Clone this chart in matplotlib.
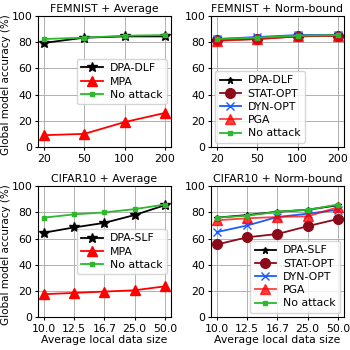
import matplotlib
matplotlib.use("Agg")
import matplotlib.pyplot as plt

femnist_sizes = ["20", "50", "100", "200"]
cifar_sizes = ["10.0", "12.5", "16.7", "25.0", "50.0"]

# FEMNIST + Average
fa_dpa = [79.5, 83.5, 84.5, 84.5]
fa_mpa = [9.0, 10.0, 19.0, 26.0]
fa_none = [82.5, 83.5, 85.0, 85.5]

# FEMNIST + Norm-bound
fn_dpa = [82.0, 83.5, 85.0, 85.5]
fn_stat = [81.5, 82.5, 84.5, 85.0]
fn_dyn = [82.5, 84.0, 85.5, 85.5]
fn_pga = [81.0, 82.5, 84.5, 85.0]
fn_none = [82.5, 83.5, 85.0, 85.5]

# CIFAR10 + Average
ca_dpa = [64.5, 68.5, 72.0, 78.0, 85.5]
ca_mpa = [17.5, 18.5, 19.5, 20.5, 23.5]
ca_none = [76.0, 78.5, 80.0, 82.5, 86.0]

# CIFAR10 + Norm-bound
cn_dpa = [76.0, 78.0, 80.5, 82.0, 85.5]
cn_stat = [55.5, 61.0, 63.5, 69.5, 75.0]
cn_dyn = [65.0, 70.0, 76.5, 79.0, 82.0]
cn_pga = [74.0, 75.5, 76.5, 77.0, 84.0]
cn_none = [76.0, 77.5, 80.5, 82.0, 86.0]

green = "#2db82d"
blue = "#1a5cff"
maroon = "#8b0a1a"

plt.rcParams["font.size"] = 7.8
plt.rcParams["axes.linewidth"] = 0.8
plt.rcParams["xtick.major.width"] = 0.8
plt.rcParams["ytick.major.width"] = 0.8
plt.rcParams["xtick.major.size"] = 2.5
plt.rcParams["ytick.major.size"] = 2.5
plt.rcParams["xtick.major.pad"] = 2.5
plt.rcParams["ytick.major.pad"] = 1.5

fig, axes = plt.subplots(2, 2, figsize=(3.5, 3.5), dpi=100)

leg_kw = dict(fontsize=7.8, handlelength=2, borderpad=0.4, labelspacing=0.3,
              handletextpad=0.6, borderaxespad=0.4)


def style(ax, labels, title):
    ax.set_title(title, fontsize=7.8, pad=3)
    ax.set_xticks(list(range(len(labels))))
    ax.set_xticklabels(labels)
    ax.set_ylim(0, 100)
    ax.set_yticks([0, 20, 40, 60, 80, 100])
    ax.grid(True, color="#b0b0b0", linewidth=0.7)
    ax.set_axisbelow(True)


def average_panel(ax, labels, dpa, mpa, none, dpa_name, title):
    x = range(len(labels))
    ax.plot(x, dpa, color="black", marker="*", markersize=7, lw=1.3,
            label=dpa_name)
    ax.plot(x, mpa, color="red", marker="^", markersize=7, lw=1.3,
            label="MPA")
    ax.plot(x, none, color=green, marker="s", markersize=2.3, lw=1.3,
            label="No attack")
    style(ax, labels, title)
    ax.legend(loc="center right", **leg_kw)


def norm_panel(ax, labels, dpa, stat, dyn, pga, none, dpa_name, title, loc):
    x = range(len(labels))
    ax.plot(x, dpa, color="black", marker="*", markersize=5, lw=1.3,
            label=dpa_name)
    ax.plot(x, stat, color=maroon, marker="o", markersize=7, lw=1.3,
            label="STAT-OPT")
    ax.plot(x, dyn, color=blue, marker="x", markersize=6, lw=1.3,
            label="DYN-OPT")
    ax.plot(x, pga, color="red", marker="^", markersize=7, lw=1.3,
            alpha=0.75, label="PGA")
    ax.plot(x, none, color=green, marker="s", markersize=2.3, lw=1.3,
            label="No attack")
    style(ax, labels, title)
    ax.legend(loc=loc, **leg_kw)


average_panel(axes[0, 0], femnist_sizes, fa_dpa, fa_mpa, fa_none,
              "DPA-DLF", "FEMNIST + Average")
norm_panel(axes[0, 1], femnist_sizes, fn_dpa, fn_stat, fn_dyn, fn_pga, fn_none,
           "DPA-DLF", "FEMNIST + Norm-bound", "lower left")
average_panel(axes[1, 0], cifar_sizes, ca_dpa, ca_mpa, ca_none,
              "DPA-SLF", "CIFAR10 + Average")
norm_panel(axes[1, 1], cifar_sizes, cn_dpa, cn_stat, cn_dyn, cn_pga, cn_none,
           "DPA-SLF", "CIFAR10 + Norm-bound", "lower right")

for ax in axes[:, 0]:
    ax.set_ylabel("Global model accuracy (%)", fontsize=7.5)
    ax.yaxis.set_label_coords(-0.205, 0.48)
axes[1, 0].set_xlabel("Average local data size", labelpad=1)
axes[1, 1].set_xlabel("Average local data size", labelpad=1)

fig.subplots_adjust(left=0.108, right=0.983, top=0.954, bottom=0.094,
                    wspace=0.3, hspace=0.3)
fig.savefig("out.png", dpi=100)
